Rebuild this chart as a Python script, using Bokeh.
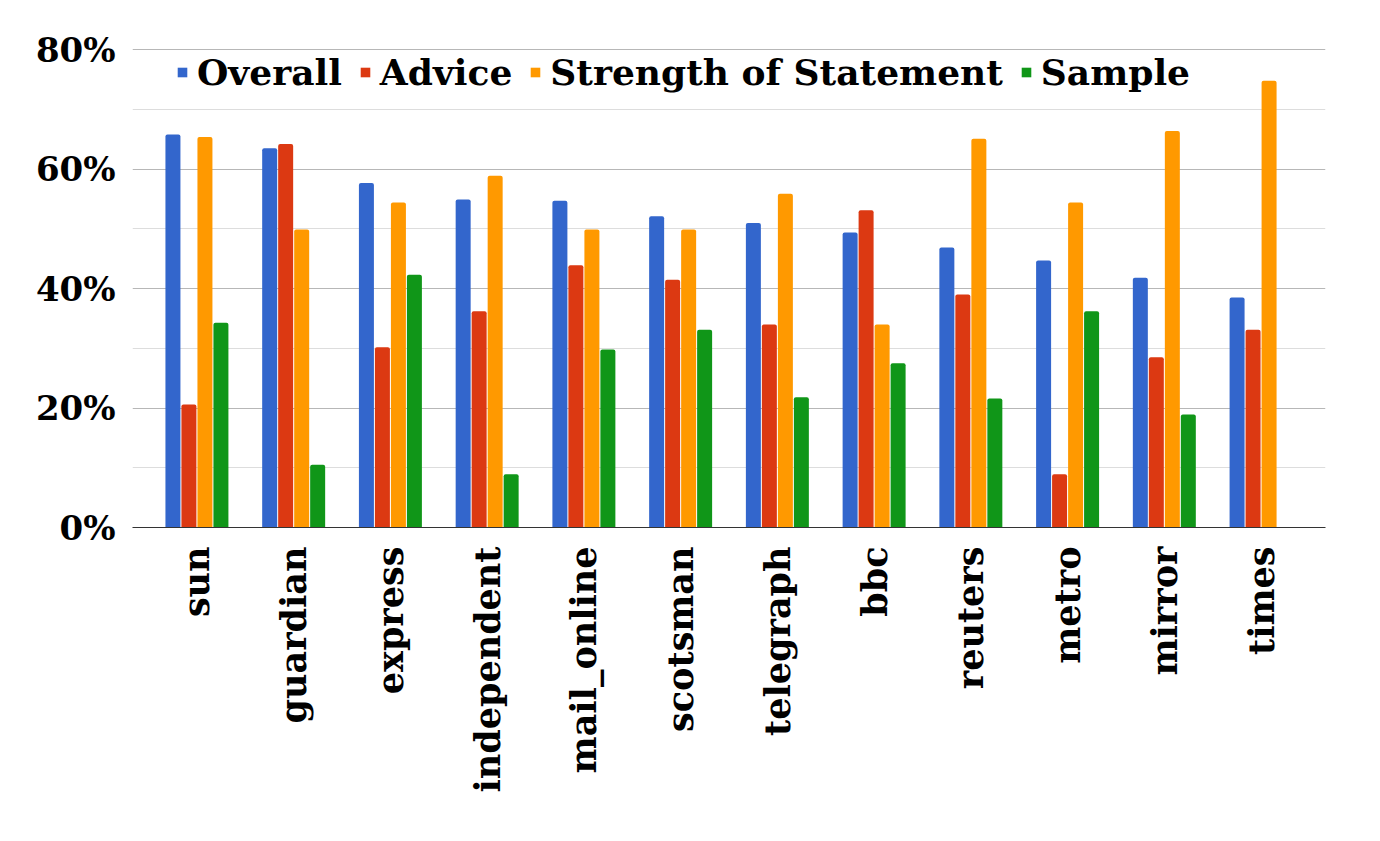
import math
from bokeh.plotting import figure
from bokeh.models import ColumnDataSource, FactorRange, Range1d, FixedTicker, PrintfTickFormatter, Legend, LegendItem
from bokeh.transform import dodge
from bokeh.embed import file_html
from bokeh.resources import INLINE

categories = ["sun", "guardian", "express", "independent", "mail_online", "scotsman",
              "telegraph", "bbc", "reuters", "metro", "mirror", "times"]
overall = [65.8, 63.5, 57.7, 54.9, 54.7, 52.1, 51.0, 49.4, 46.9, 44.7, 41.8, 38.5]
advice = [20.6, 64.2, 30.2, 36.2, 43.9, 41.5, 34.0, 53.1, 39.0, 8.9, 28.5, 33.1]
strength = [65.4, 49.9, 54.4, 58.9, 49.9, 49.9, 55.9, 34.0, 65.1, 54.4, 66.4, 74.8]
sample = [34.3, 10.5, 42.3, 8.9, 29.8, 33.1, 21.8, 27.5, 21.6, 36.2, 18.9, 0.0]
series_names = ["Overall", "Advice", "Strength of Statement", "Sample"]
colors = ["#3366cc", "#dc3912", "#ff9900", "#109618"]
y_ticks = [0, 20, 40, 60, 80]
y_minor = [10, 30, 50, 70]

FONT = "DejaVu Serif"

src = ColumnDataSource(dict(cat=categories, overall=overall, advice=advice,
                            strength=strength, sample=sample))

p = figure(width=1364, height=822, output_backend="svg", toolbar_location=None,
           x_range=FactorRange(factors=categories, range_padding=0.166,
                               range_padding_units="absolute"),
           y_range=Range1d(0, 80.2),
           min_border_left=132, min_border_right=39, min_border_top=48,
           min_border_bottom=295)
p.outline_line_color = None
p.background_fill_color = "white"
p.border_fill_color = "white"

cols = ["overall", "advice", "strength", "sample"]
offsets = [-0.248, -0.0828, 0.0828, 0.248]
renderers = []
for col, off, c in zip(cols, offsets, colors):
    r = p.vbar(x=dodge("cat", off, range=p.x_range), top=col, width=0.155, source=src,
               fill_color=c, line_color=None, border_radius=(2, 2, 0, 0))
    renderers.append(r)

# axes
p.yaxis.ticker = FixedTicker(ticks=y_ticks, minor_ticks=y_minor)
p.yaxis.formatter = PrintfTickFormatter(format="%d%%")
p.yaxis.axis_line_color = None
p.yaxis.major_tick_line_color = None
p.yaxis.minor_tick_line_color = None
p.yaxis.major_tick_out = 0
p.yaxis.major_label_standoff = 13
p.yaxis.major_label_text_font = FONT
p.yaxis.major_label_text_font_style = "bold"
p.yaxis.major_label_text_font_size = "34px"
p.yaxis.major_label_text_color = "black"

p.xaxis.axis_line_color = "#333333"
p.xaxis.axis_line_width = 1
p.xaxis.major_tick_line_color = None
p.xaxis.minor_tick_line_color = None
p.xaxis.major_tick_out = 0
p.xaxis.major_label_orientation = math.pi / 2
p.xaxis.major_label_standoff = 19
p.xaxis.major_label_text_font = FONT
p.xaxis.major_label_text_font_style = "bold"
p.xaxis.major_label_text_font_size = "35px"
p.xaxis.major_label_text_color = "black"

p.xgrid.grid_line_color = None
p.ygrid.grid_line_color = "#b7b7b7"
p.ygrid.minor_grid_line_color = "#dddddd"

legend = Legend(items=[LegendItem(label=n, renderers=[r]) for n, r in zip(series_names, renderers)],
                orientation="horizontal", location=(44, 434),
                glyph_width=12, glyph_height=12, label_standoff=9, spacing=17,
                padding=0, margin=0, border_line_color=None, background_fill_alpha=0,
                label_text_font=FONT, label_text_font_style="bold",
                label_text_font_size="36px", label_text_color="black")
p.add_layout(legend, "center")

open("out.html", "w").write(file_html(p, INLINE))
